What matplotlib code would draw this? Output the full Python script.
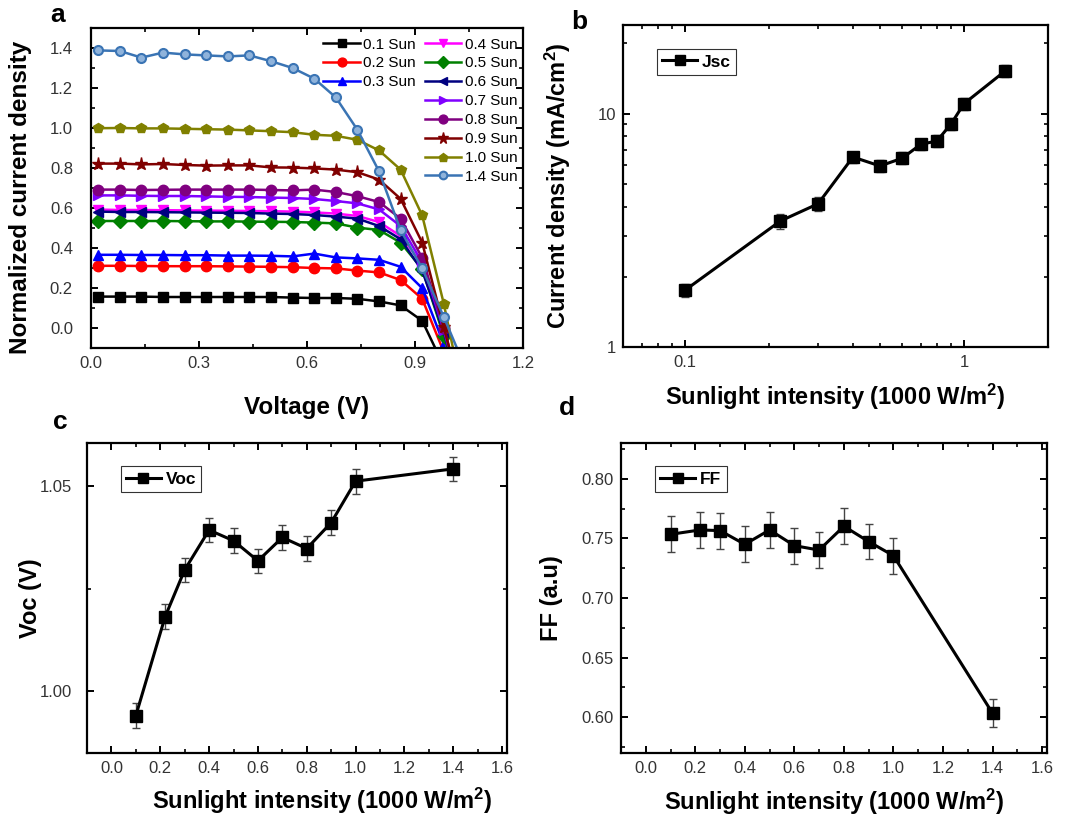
import numpy as np
import matplotlib
matplotlib.use("Agg")
import matplotlib.pyplot as plt
from matplotlib.ticker import MultipleLocator, LogLocator, NullFormatter, FixedLocator

plt.rcParams['font.family'] = ['Liberation Sans', 'DejaVu Sans']
plt.rcParams['mathtext.default'] = 'regular'

# ---- panel a: J-V curves (normalized current density) ----
voltage = [0.02, 0.08, 0.14, 0.20, 0.26, 0.32, 0.38, 0.44, 0.50, 0.56,
           0.62, 0.68, 0.74, 0.80, 0.86, 0.92, 0.98, 1.04]
suns = ['0.1 Sun', '0.2 Sun', '0.3 Sun', '0.4 Sun', '0.5 Sun', '0.6 Sun',
        '0.7 Sun', '0.8 Sun', '0.9 Sun', '1.0 Sun', '1.4 Sun']
j_01 = [0.157, 0.157, 0.157, 0.155, 0.155, 0.155, 0.155, 0.155, 0.155, 0.152,
        0.150, 0.150, 0.146, 0.133, 0.113, 0.036, -0.19, -0.40]
j_02 = [0.311, 0.311, 0.310, 0.309, 0.309, 0.309, 0.308, 0.307, 0.306, 0.304,
        0.300, 0.298, 0.287, 0.278, 0.240, 0.146, -0.12, -0.40]
j_03 = [0.366, 0.366, 0.365, 0.365, 0.364, 0.364, 0.362, 0.362, 0.361, 0.358,
        0.372, 0.353, 0.348, 0.341, 0.306, 0.199, -0.08, -0.40]
j_04 = [0.592, 0.590, 0.590, 0.589, 0.588, 0.587, 0.586, 0.585, 0.584, 0.582,
        0.578, 0.572, 0.560, 0.530, 0.460, 0.320, -0.04, -0.40]
j_05 = [0.535, 0.535, 0.535, 0.535, 0.534, 0.533, 0.533, 0.532, 0.531, 0.530,
        0.527, 0.523, 0.502, 0.490, 0.427, 0.295, -0.04, -0.40]
j_06 = [0.582, 0.580, 0.580, 0.579, 0.578, 0.577, 0.576, 0.575, 0.572, 0.570,
        0.565, 0.557, 0.547, 0.510, 0.444, 0.287, -0.02, -0.40]
j_07 = [0.663, 0.663, 0.661, 0.660, 0.660, 0.658, 0.656, 0.655, 0.652, 0.650,
        0.645, 0.635, 0.623, 0.593, 0.510, 0.328, -0.01, -0.40]
j_08 = [0.692, 0.692, 0.690, 0.691, 0.692, 0.692, 0.692, 0.692, 0.690, 0.688,
        0.692, 0.680, 0.659, 0.630, 0.547, 0.351, 0.00, -0.40]
j_09 = [0.822, 0.822, 0.818, 0.820, 0.815, 0.812, 0.813, 0.813, 0.803, 0.802,
        0.798, 0.792, 0.779, 0.742, 0.646, 0.427, 0.005, -0.40]
j_10 = [0.999, 1.000, 0.998, 0.998, 0.996, 0.994, 0.992, 0.988, 0.984, 0.979,
        0.966, 0.961, 0.941, 0.888, 0.792, 0.563, 0.121, -0.40]
j_14 = [1.388, 1.385, 1.352, 1.377, 1.368, 1.363, 1.358, 1.363, 1.334, 1.300,
        1.247, 1.153, 0.991, 0.784, 0.489, 0.298, 0.055, -0.20]
j_all = [j_01, j_02, j_03, j_04, j_05, j_06, j_07, j_08, j_09, j_10, j_14]

colors = ['black', '#ff0000', '#0000ff', '#ff00ff', '#008000', '#000080',
          '#8000ff', '#800080', '#800000', '#808000', '#3a74b4']
markers = ['s', 'o', '^', 'v', 'D', '<', '>', 'o', '*', 'p', 'o']

# ---- panels b, c, d ----
intensity = [0.1, 0.22, 0.3, 0.4, 0.5, 0.6, 0.7, 0.8, 0.9, 1.0, 1.4]
jsc = [1.75, 3.47, 4.11, 6.52, 5.97, 6.44, 7.39, 7.64, 9.06, 11.04, 15.2]
jsc_err = [0.12, 0.25, 0.28, 0.35, 0.35, 0.38, 0.40, 0.45, 0.55, 0.65, 0.90]
voc = [0.9941, 1.0182, 1.0296, 1.0393, 1.0367, 1.0318, 1.0375, 1.0348,
       1.0411, 1.0512, 1.0542]
voc_err = [0.003, 0.003, 0.003, 0.003, 0.003, 0.003, 0.003, 0.003, 0.003,
           0.003, 0.003]
ff = [0.7534, 0.7571, 0.7565, 0.745, 0.7571, 0.7439, 0.7402, 0.7602, 0.7473,
      0.7355, 0.6034]
ff_err = [0.015, 0.015, 0.015, 0.015, 0.015, 0.015, 0.015, 0.015, 0.015,
          0.015, 0.012]

W, H = 1073, 816
fig = plt.figure(figsize=(W / 100, H / 100), dpi=100)


def box(l, t, r, b):
    # pixel box -> figure fraction
    return [l / W, 1 - b / H, (r - l) / W, (b - t) / H]


ax_a = fig.add_axes(box(91, 28, 523, 348))
ax_b = fig.add_axes(box(623, 25, 1048, 347))
ax_c = fig.add_axes(box(87, 443, 507, 753))
ax_d = fig.add_axes(box(621, 443, 1047, 753))

tick_fs = 12
label_fs = 17


def style_axes(ax, ypad):
    for sp in ax.spines.values():
        sp.set_linewidth(1.6)
    ax.tick_params(which='both', direction='in', top=True, right=True,
                   labelsize=tick_fs, colors='black')
    ax.tick_params(axis='x', pad=6)
    ax.tick_params(axis='y', pad=ypad)
    ax.tick_params(which='major', length=5, width=1.4)
    ax.tick_params(which='minor', length=3, width=1.2)
    for t in ax.get_xticklabels() + ax.get_yticklabels():
        t.set_color('#333333')


def point_series(ax, y, err, lab):
    ax.errorbar(intensity, y, yerr=err, fmt='none', ecolor='#444444',
                elinewidth=1, capsize=3)
    ax.plot(intensity, y, color='black', marker='s', ms=8, lw=2.2, label=lab)


# panel a
for j, lab, c, m in zip(j_all, suns, colors, markers):
    if lab == '1.4 Sun':
        ax_a.plot(voltage, j, color=c, marker=m, ms=6.5, lw=1.8,
                  mfc='#8fb3db', mec=c, mew=1.5, label=lab)
    else:
        ms = 9.5 if m == '*' else 7.5
        ax_a.plot(voltage, j, color=c, marker=m, ms=ms, lw=1.8,
                  mec=c, label=lab)
ax_a.set_xlim(0, 1.2)
ax_a.set_ylim(-0.1, 1.5)
ax_a.xaxis.set_major_locator(MultipleLocator(0.3))
ax_a.xaxis.set_minor_locator(MultipleLocator(0.15))
ax_a.yaxis.set_major_locator(FixedLocator([0.0, 0.2, 0.4, 0.6, 0.8, 1.0, 1.2, 1.4]))
ax_a.yaxis.set_minor_locator(MultipleLocator(0.1))
ax_a.xaxis.set_major_formatter(plt.FuncFormatter(lambda v, p: f'{v:.1f}'))
ax_a.yaxis.set_major_formatter(plt.FuncFormatter(lambda v, p: f'{v:.1f}'))
ax_a.set_xlabel('Voltage (V)', fontsize=17.5, fontweight='bold')
ax_a.set_ylabel('Normalized current density', fontsize=17.5, fontweight='bold')
ax_a.yaxis.set_label_coords(-0.137, 0.47)
ax_a.xaxis.set_label_coords(0.5, -0.15)
style_axes(ax_a, 13)

handles, labels = ax_a.get_legend_handles_labels()
leg_kw = dict(frameon=False, fontsize=11, handlelength=2.4,
              handletextpad=0.2, labelspacing=0.32, borderaxespad=0,
              borderpad=0.1, markerscale=0.85)
leg1 = ax_a.legend(handles[3:], labels[3:], loc='upper right',
                   bbox_to_anchor=(0.99, 0.975), **leg_kw)
ax_a.add_artist(leg1)
ax_a.legend(handles[:3], labels[:3], loc='upper right',
            bbox_to_anchor=(0.755, 0.975), **leg_kw)

# panel b
point_series(ax_b, jsc, jsc_err, 'Jsc')
ax_b.set_xscale('log')
ax_b.set_yscale('log')
ax_b.set_xlim(0.06, 2.0)
ax_b.set_ylim(1, 24)
ax_b.xaxis.set_major_locator(FixedLocator([0.1, 1]))
ax_b.xaxis.set_major_formatter(plt.FuncFormatter(lambda v, p: f'{v:g}'))
ax_b.xaxis.set_minor_locator(LogLocator(base=10, subs=np.arange(2, 10)))
ax_b.xaxis.set_minor_formatter(NullFormatter())
ax_b.yaxis.set_major_locator(FixedLocator([1, 10]))
ax_b.yaxis.set_major_formatter(plt.FuncFormatter(lambda v, p: f'{v:g}'))
ax_b.yaxis.set_minor_locator(LogLocator(base=10, subs=np.arange(2, 10)))
ax_b.yaxis.set_minor_formatter(NullFormatter())
ax_b.set_xlabel('Sunlight intensity (1000 W/m$^2$)', fontsize=label_fs, fontweight='bold')
ax_b.set_ylabel('Current density (mA/cm$^2$)', fontsize=label_fs, fontweight='bold')
ax_b.yaxis.set_label_coords(-0.118, 0.5)
ax_b.xaxis.set_label_coords(0.5, -0.108)
style_axes(ax_b, 5)

# panel c
point_series(ax_c, voc, voc_err, 'Voc')
ax_c.set_xlim(-0.1, 1.62)
ax_c.set_ylim(0.985, 1.0605)
ax_c.xaxis.set_major_locator(MultipleLocator(0.2))
ax_c.xaxis.set_minor_locator(MultipleLocator(0.1))
ax_c.yaxis.set_major_locator(FixedLocator([1.00, 1.05]))
ax_c.yaxis.set_minor_locator(FixedLocator([1.025]))
ax_c.xaxis.set_major_formatter(plt.FuncFormatter(lambda v, p: f'{v:.1f}'))
ax_c.yaxis.set_major_formatter(plt.FuncFormatter(lambda v, p: f'{v:.2f}'))
ax_c.set_xlabel('Sunlight intensity (1000 W/m$^2$)', fontsize=label_fs, fontweight='bold')
ax_c.set_ylabel('Voc (V)', fontsize=label_fs, fontweight='bold')
ax_c.yaxis.set_label_coords(-0.107, 0.5)
ax_c.xaxis.set_label_coords(0.56, -0.105)
style_axes(ax_c, 11)

# panel d
point_series(ax_d, ff, ff_err, 'FF')
ax_d.set_xlim(-0.1, 1.62)
ax_d.set_ylim(0.57, 0.83)
ax_d.xaxis.set_major_locator(MultipleLocator(0.2))
ax_d.xaxis.set_minor_locator(MultipleLocator(0.1))
ax_d.yaxis.set_major_locator(FixedLocator([0.60, 0.65, 0.70, 0.75, 0.80]))
ax_d.yaxis.set_minor_locator(MultipleLocator(0.025))
ax_d.xaxis.set_major_formatter(plt.FuncFormatter(lambda v, p: f'{v:.1f}'))
ax_d.yaxis.set_major_formatter(plt.FuncFormatter(lambda v, p: f'{v:.2f}'))
ax_d.set_xlabel('Sunlight intensity (1000 W/m$^2$)', fontsize=label_fs, fontweight='bold')
ax_d.set_ylabel('FF (a.u)', fontsize=label_fs, fontweight='bold')
ax_d.yaxis.set_label_coords(-0.136, 0.5)
ax_d.xaxis.set_label_coords(0.5, -0.108)
style_axes(ax_d, 5)

for ax in (ax_b, ax_c, ax_d):
    leg = ax.legend(loc='upper left', bbox_to_anchor=(0.08, 0.925),
                    fontsize=12.5, fancybox=False, edgecolor='black',
                    handlelength=2.0, handletextpad=0.3, borderpad=0.3,
                    borderaxespad=0, markerscale=0.85)
    leg.get_frame().set_linewidth(0.8)
    for t in leg.get_texts():
        t.set_fontweight('bold')

# panel letters
fig.text(58 / W, 1 - 15 / H, 'a', fontsize=19, fontweight='bold', ha='center', va='center')
fig.text(579 / W, 1 - 22 / H, 'b', fontsize=19, fontweight='bold', ha='center', va='center')
fig.text(60 / W, 1 - 422 / H, 'c', fontsize=19, fontweight='bold', ha='center', va='center')
fig.text(567 / W, 1 - 408 / H, 'd', fontsize=19, fontweight='bold', ha='center', va='center')

fig.savefig('out.png', dpi=100, facecolor='white')
